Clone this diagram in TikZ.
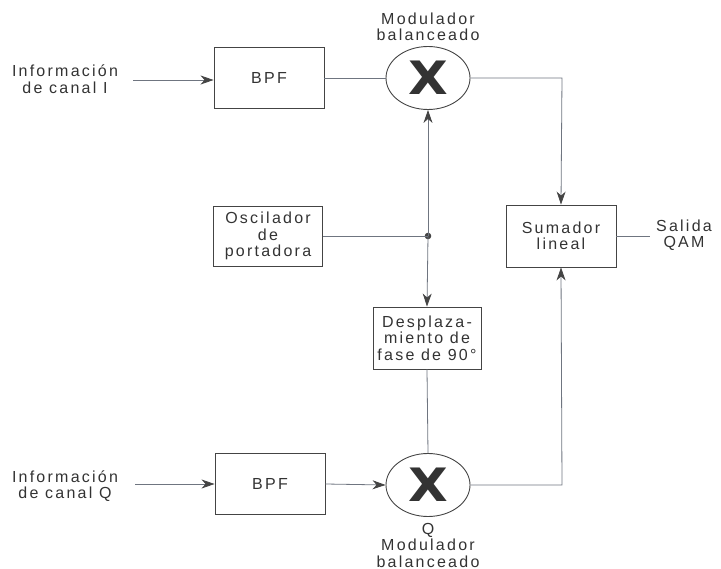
\documentclass[tikz,border=0pt]{standalone}
\usepackage{fontspec}
\setmainfont{Liberation Sans}[LetterSpace=14]
\newfontfamily\xfont{DejaVu Sans}
\usetikzlibrary{arrows.meta,shapes.geometric}
\definecolor{ink}{HTML}{333333}
\definecolor{wire}{HTML}{6F7580}
\definecolor{edge}{HTML}{444444}
\begin{document}
\begin{tikzpicture}[x=1pt,y=-1pt,
  txt/.style={font=\fontsize{16}{16.5}\selectfont, text=ink, align=center, inner sep=0pt},
  blk/.style={draw=edge, line width=0.9pt, minimum width=110pt, minimum height=61pt, txt},
  mix/.style={ellipse, draw=edge, line width=0.9pt, minimum width=84pt, minimum height=63pt, inner sep=0pt,
     font=\xfont\bfseries\fontsize{46}{46}\selectfont, text=ink},
  con/.style={draw=wire, line width=0.8pt},
  arr/.style={con, -{Stealth[length=13pt,width=9pt,inset=4pt,color=edge]}}
]
\useasboundingbox (0,0) rectangle (721,569);
% text labels
\node[txt] (inI) at (65,79) {Información\\de canal I};
\node[txt] (inQ) at (65,486) {Información\\de canal Q};
\node[txt] (mtl) at (428,27) {Modulador\\balanceado};
\node[txt] (mbl) at (428,545) {Q\\Modulador\\balanceado};
\node[txt] (out) at (684,235) {Salida\\QAM};
% blocks
\node[blk] (bpf1) at (269,78) {BPF};
\node[blk] (bpf2) at (270,484) {BPF};
\node[blk, minimum width=109pt, minimum height=60pt] (osc) at (268,236) {Oscilador\\de\\portadora};
\node[blk, minimum width=108pt, minimum height=62pt] (ph) at (427,338) {Desplaza-\\miento de\\fase de 90°};
\node[blk, minimum width=110pt, minimum height=62pt] (sum) at (561,236) {Sumador\\lineal};
% mixers
\node[mix] (m1) at (428,78) {\scalebox{1.12}[1]{X}};
\node[mix] (m2) at (428,485) {\scalebox{1.12}[1]{X}};
% junction
\coordinate (j) at (428,236);
\fill[edge] (j) circle (3.3pt);
\coordinate (i1) at (133,80);
\coordinate (i2) at (135,484);
\coordinate (o1) at (650,236);
\coordinate (c1) at (562,78);
\coordinate (c2) at (562,485);
% connectors
\draw[arr] (i1) -- (bpf1.west |- i1);
\draw[con] (bpf1.east) -- (m1.west);
\draw[arr] (m1.east) -- (c1) -- (sum.north);
\draw[arr] (i2) -- (bpf2.west);
\draw[arr] (bpf2.east) -- (m2.west);
\draw[arr] (m2.east) -- (c2) -- (sum.south);
\draw[con] (osc.east) -- (j);
\draw[arr] (j) -- (m1.south);
\draw[arr] (j) -- (ph.north);
\draw[con] (ph.south) -- (m2.north);
\draw[con] (sum.east) -- (o1);
\end{tikzpicture}
\end{document}
